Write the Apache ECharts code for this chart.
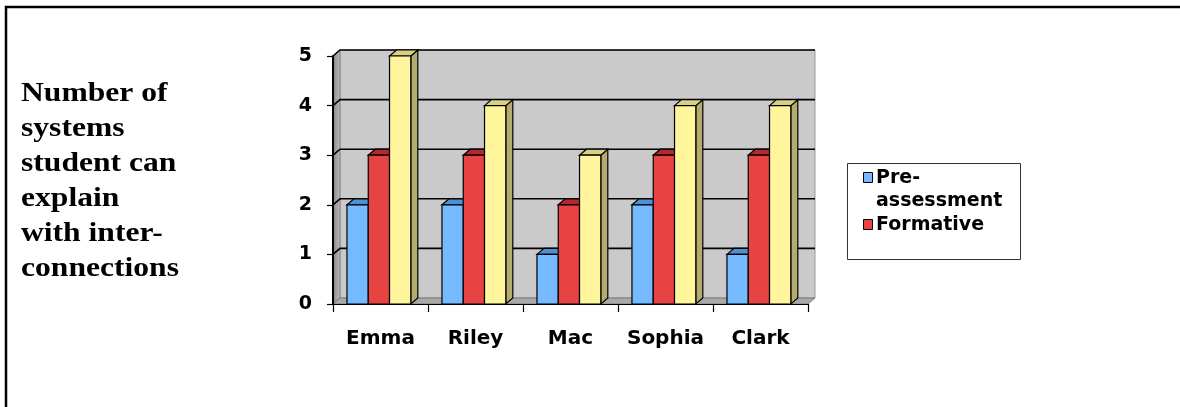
<!DOCTYPE html>
<html>
<head>
<meta charset="utf-8">
<style>
  html, body { margin: 0; padding: 0; background: #ffffff; }
  #chart { width: 1180px; height: 407px; }
</style>
<script src="https://cdn.jsdelivr.net/npm/echarts@6/dist/echarts.min.js"></script>
</head>
<body>
<div id="chart"></div>
<script>
// Students and the number of systems each can explain with inter-connections
const categories = ['Emma', 'Riley', 'Mac', 'Sophia', 'Clark'];
const preAssessment = [2, 2, 1, 2, 1];
const formative = [3, 3, 2, 3, 3];
const summative = [5, 4, 3, 4, 4];
const yTicks = [0, 1, 2, 3, 4, 5];
const seriesNames = ['Pre-assessment', 'Formative', 'Summative'];
const titleLines = ['Number of', 'systems', 'student can', 'explain', 'with inter-', 'connections'];
const legendLines = [['Pre-', 'assessment'], ['Formative']];

// face colours: front, top, side
const palette = [
  { front: '#75baff', top: '#4f8fd6', side: '#3f78b8' },
  { front: '#e84343', top: '#b42a2a', side: '#992222' },
  { front: '#fff59d', top: '#d9d083', side: '#b4ac6e' }
];

// pseudo-3D depth of the plot, in pixels
const DX = 7, DY = -6;
const SANS = '"DejaVu Sans", "Liberation Sans", sans-serif';

const chart = echarts.init(document.getElementById('chart'), null, { renderer: 'canvas' });

function wallItem(params, api) {
  const cs = params.coordSys;
  const x = cs.x, y = cs.y, w = cs.width, h = cs.height;
  const children = [];
  // back wall
  children.push({
    type: 'rect',
    shape: { x: x + DX, y: y + DY, width: w, height: h },
    style: { fill: '#cacaca', stroke: '#9a9a9a', lineWidth: 1 }
  });
  // left side wall
  children.push({
    type: 'polygon',
    shape: { points: [[x, y], [x + DX, y + DY], [x + DX, y + h + DY], [x, y + h]] },
    style: {
      fill: new echarts.graphic.LinearGradient(0, 0, 1, 0, [
        { offset: 0, color: '#858585' }, { offset: 1, color: '#bdbdbd' }
      ]),
      stroke: '#777', lineWidth: 0.8
    }
  });
  // floor
  children.push({
    type: 'polygon',
    shape: { points: [[x, y + h], [x + DX, y + h + DY], [x + w + DX, y + h + DY], [x + w, y + h]] },
    style: { fill: '#a9a9a9', stroke: '#6e6e6e', lineWidth: 0.8 }
  });
  // gridlines running over side wall and back wall
  yTicks.forEach(function (v) {
    if (v === 0) return;
    const yy = api.coord([0, v])[1];
    children.push({
      type: 'polyline',
      shape: { points: [[x, yy], [x + DX, yy + DY], [x + w + DX, yy + DY]] },
      style: { stroke: '#000', lineWidth: 1.6, fill: null }
    });
  });
  return { type: 'group', children: children };
}

function barRenderer(pos) {
  const col = palette[pos];
  return function (params, api) {
    const idx = api.value(0);
    const base = api.coord([idx, 0]);
    const top = api.coord([idx, api.value(1)]);
    const band = api.size([1, 0])[0];
    const bw = band * 0.224;
    const left = base[0] - band / 2 + band * 0.147 + pos * bw;
    const right = left + bw;
    const ty = top[1], by = base[1];
    const line = { stroke: '#000', lineWidth: 1.2 };
    return {
      type: 'group',
      children: [
        {
          type: 'polygon',
          shape: { points: [[right, ty], [right + DX, ty + DY], [right + DX, by + DY], [right, by]] },
          style: Object.assign({ fill: col.side }, line)
        },
        {
          type: 'polygon',
          shape: { points: [[left, ty], [left + DX, ty + DY], [right + DX, ty + DY], [right, ty]] },
          style: Object.assign({ fill: col.top }, line)
        },
        {
          type: 'rect',
          shape: { x: left, y: ty, width: bw, height: by - ty },
          style: Object.assign({ fill: col.front }, line)
        }
      ]
    };
  };
}

function toPairs(values) {
  return values.map(function (v, i) { return [i, v]; });
}

const seriesValues = [preAssessment, formative, summative];

const series = [{
  type: 'custom',
  name: 'wall',
  renderItem: wallItem,
  data: [[0, 0]],
  clip: false,
  silent: true,
  z: 1
}].concat(seriesValues.map(function (vals, pos) {
  return {
    type: 'custom',
    name: seriesNames[pos],
    renderItem: barRenderer(pos),
    data: toPairs(vals),
    encode: { x: 0, y: 1 },
    clip: false,
    z: 3
  };
}));

// legend drawn as a boxed list beside the plot
const legendGraphic = [{
  type: 'rect',
  shape: { x: 847.5, y: 163.5, width: 173, height: 96 },
  style: { fill: '#fff', stroke: '#333', lineWidth: 1 }
}];
const legendRows = [
  { y: 178, pos: 0 },
  { y: 225, pos: 1 }
];
legendRows.forEach(function (row, i) {
  legendGraphic.push({
    type: 'rect',
    shape: { x: 863.5, y: row.y - 5.5, width: 9, height: 10 },
    style: { fill: palette[row.pos].front, stroke: '#000', lineWidth: 1 }
  });
  legendLines[i].forEach(function (t, k) {
    legendGraphic.push({
      type: 'text',
      x: 876,
      y: row.y + k * 23,
      style: {
        text: t, fill: '#000', font: 'bold 19px ' + SANS,
        align: 'left', verticalAlign: 'middle'
      }
    });
  });
});

const option = {
  backgroundColor: '#ffffff',
  animation: false,
  grid: { left: 333, right: 372, top: 56, bottom: 103, containLabel: false },
  xAxis: {
    type: 'category',
    data: categories,
    boundaryGap: true,
    axisLine: { show: true, lineStyle: { color: '#000', width: 1.2 } },
    axisTick: { show: true, interval: 0, alignWithLabel: false, length: 8, lineStyle: { color: '#000', width: 1.2 } },
    axisLabel: { interval: 0, color: '#000', fontFamily: SANS, fontWeight: 'bold', fontSize: 20, margin: 25 },
    splitLine: { show: false },
    z: 5
  },
  yAxis: {
    type: 'value',
    min: 0, max: 5, interval: 1,
    axisLine: { show: true, lineStyle: { color: '#000', width: 2 } },
    axisTick: { show: true, length: 6, lineStyle: { color: '#000', width: 1.2 } },
    axisLabel: { color: '#000', fontFamily: SANS, fontWeight: 'bold', fontSize: 19, margin: 21 },
    splitLine: { show: false },
    z: 5
  },
  series: series,
  graphic: [
    {
      type: 'polyline',
      shape: { points: [[6, 407], [6, 7], [1180, 7]] },
      style: { stroke: '#000', lineWidth: 2.5, fill: null }
    },
    {
      type: 'text',
      x: 21, y: 77, scaleX: 1.17,
      style: {
        text: titleLines.join('\n'),
        font: 'bold 27px "Liberation Serif", "Times New Roman", serif',
        lineHeight: 35, fill: '#000', align: 'left', verticalAlign: 'top'
      }
    }
  ].concat(legendGraphic)
};

chart.setOption(option);
</script>
</body>
</html>
